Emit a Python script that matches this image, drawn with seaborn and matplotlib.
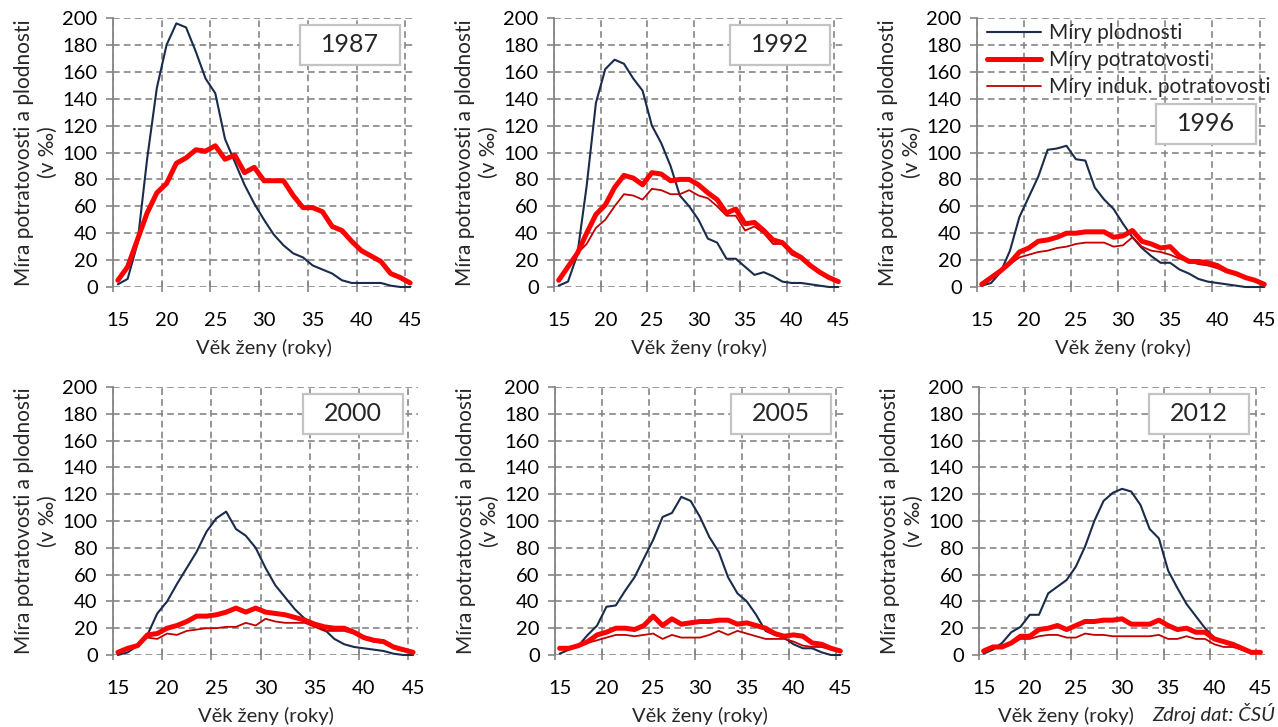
import matplotlib
matplotlib.use("Agg")
import matplotlib.pyplot as plt
import seaborn as sns
from matplotlib.patches import Rectangle
from matplotlib.lines import Line2D

ages = list(range(15, 46))
years = ["1987", "1992", "1996", "2000", "2005", "2012"]

fert_1987 = [2, 6, 32, 95, 148, 180, 196, 193, 175, 155, 144, 110, 93, 76, 62, 50, 39, 31, 25, 22, 16, 13, 10, 5, 3, 3, 3, 3, 1, 0, 0]
abort_1987 = [5, 15, 35, 55, 70, 77, 92, 96, 102, 101, 105, 95, 98, 85, 89, 79, 79, 79, 68, 59, 59, 56, 45, 42, 34, 27, 23, 19, 10, 7, 3]
induced_1987 = None

fert_1992 = [1, 4, 24, 75, 137, 162, 169, 166, 155, 146, 120, 107, 90, 68, 60, 50, 36, 33, 21, 21, 15, 9, 11, 8, 4, 3, 3, 2, 1, 0, 0]
abort_1992 = [5, 15, 25, 40, 54, 61, 74, 83, 81, 76, 85, 84, 79, 80, 80, 76, 70, 65, 55, 58, 47, 48, 42, 35, 33, 26, 22, 16, 11, 7, 4]
induced_1992 = [5, 15, 25, 32, 44, 50, 60, 69, 68, 65, 73, 72, 69, 69, 72, 68, 66, 60, 53, 53, 42, 45, 40, 32, 32, 24, 21, 15, 11, 7, 4]

fert_1996 = [1, 3, 11, 27, 52, 67, 82, 102, 103, 105, 95, 94, 74, 65, 58, 47, 37, 29, 23, 18, 18, 13, 10, 6, 4, 3, 2, 1, 0, 0, 0]
abort_1996 = [2, 7, 12, 18, 26, 29, 34, 35, 37, 40, 40, 41, 41, 41, 37, 38, 42, 34, 32, 29, 30, 23, 19, 19, 18, 16, 12, 10, 7, 5, 2]
induced_1996 = [2, 7, 12, 17, 22, 24, 26, 27, 29, 30, 32, 33, 33, 33, 30, 31, 37, 30, 27, 26, 24, 21, 19, 17, 16, 14, 11, 9, 7, 5, 2]

fert_2000 = [0, 2, 7, 15, 31, 40, 53, 65, 77, 92, 102, 107, 94, 89, 80, 65, 52, 43, 34, 27, 22, 19, 12, 8, 6, 5, 4, 3, 1, 0, 0]
abort_2000 = [2, 5, 7, 15, 16, 20, 22, 25, 29, 29, 30, 32, 35, 32, 35, 32, 31, 30, 28, 26, 23, 21, 20, 20, 17, 13, 11, 10, 6, 4, 2]
induced_2000 = [2, 5, 7, 13, 12, 16, 15, 18, 19, 20, 20, 21, 21, 24, 22, 27, 25, 24, 24, 24, 21, 18, 18, 18, 16, 12, 10, 9, 5, 3, 2]

fert_2005 = [1, 4, 7, 15, 22, 36, 37, 48, 58, 72, 86, 103, 106, 118, 115, 103, 88, 77, 58, 46, 40, 30, 18, 15, 13, 8, 5, 5, 2, 0, 0]
abort_2005 = [5, 5, 7, 10, 15, 17, 20, 20, 19, 22, 29, 22, 27, 23, 24, 25, 25, 26, 26, 23, 24, 22, 20, 16, 14, 15, 14, 9, 8, 5, 3]
induced_2005 = [5, 5, 7, 9, 11, 13, 15, 15, 14, 15, 16, 12, 15, 13, 13, 13, 15, 18, 15, 18, 16, 14, 12, 12, 12, 10, 7, 6, 6, 4, 3]

fert_2012 = [1, 4, 9, 17, 21, 30, 30, 46, 51, 56, 66, 81, 100, 115, 121, 124, 122, 112, 94, 87, 63, 50, 38, 29, 20, 13, 10, 7, 4, 2, 2]
abort_2012 = [3, 6, 6, 9, 14, 14, 19, 20, 22, 19, 22, 25, 25, 26, 26, 27, 23, 23, 23, 26, 22, 19, 20, 17, 17, 12, 10, 8, 5, 2, 2]
induced_2012 = [2, 5, 6, 8, 12, 12, 14, 15, 15, 13, 13, 16, 15, 15, 14, 14, 14, 14, 14, 15, 12, 12, 14, 12, 12, 8, 6, 6, 4, 2, 2]

series = {
    "1987": (fert_1987, abort_1987, induced_1987),
    "1992": (fert_1992, abort_1992, induced_1992),
    "1996": (fert_1996, abort_1996, induced_1996),
    "2000": (fert_2000, abort_2000, induced_2000),
    "2005": (fert_2005, abort_2005, induced_2005),
    "2012": (fert_2012, abort_2012, induced_2012),
}

legend_labels = ["Míry plodnosti", "Míry potratovosti", "Míry induk. potratovosti"]
ylabel_text = "Míra potratovosti a plodnosti\n(v ‰)"
xlabel_text = "Věk ženy (roky)"
source_text = "Zdroj dat: ČSÚ"

sns.set_theme(style="white")
plt.rcParams['font.family'] = ['Lato', 'DejaVu Sans']

W, H = 1278, 727
fig = plt.figure(figsize=(W / 100, H / 100), dpi=100)

# pixel boxes: left, right, top, bottom
layout = {
    "1987": (113, 415, 18, 287),
    "1992": (554, 843, 18, 287),
    "1996": (977, 1269, 18, 287),
    "2000": (113, 418, 387, 655),
    "2005": (555, 845, 387, 655),
    "2012": (979, 1265, 387, 655),
}
# year box centres (axes fraction)
yearbox = {
    "1987": (0.785, 0.90),
    "1992": (0.782, 0.90),
    "1996": (0.784, 0.606),
    "2000": (0.787, 0.90),
    "2005": (0.78, 0.90),
    "2012": (0.77, 0.90),
}
# x-label horizontal centre (pixels) where it is not centred on the axes
xlabel_x = {"2012": 1066}

BLUE = "#1a2b4c"
RED = "#ff0000"
DRED = "#c00000"
GRID = "#858585"

for yr in years:
    l, r, t, b = layout[yr]
    ax = fig.add_axes([l / W, 1 - b / H, (r - l) / W, (b - t) / H])
    fert, abort, induced = series[yr]
    sns.lineplot(x=ages, y=fert, ax=ax, color=BLUE, linewidth=1.5, zorder=3, clip_on=False)
    if induced is not None:
        sns.lineplot(x=ages, y=induced, ax=ax, color=DRED, linewidth=1.3, zorder=3.5, clip_on=False)
    sns.lineplot(x=ages, y=abort, ax=ax, color=RED, linewidth=3.6, zorder=4, clip_on=False)

    ax.set_xlim(14.5, 45.5)
    ax.set_ylim(0, 200)
    ax.set_yticks(range(0, 201, 20))
    ax.set_xticks([14.5, 19.5, 24.5, 29.5, 34.5, 39.5, 44.5])
    ax.set_xticklabels([])
    ax.set_xticks(list(range(15, 46, 5)), minor=True)
    ax.set_xticklabels([str(v) for v in range(15, 46, 5)], minor=True)
    ax.tick_params(axis='x', which='major', direction='inout', length=7, width=1.2, color=GRID, bottom=True)
    ax.tick_params(axis='x', which='minor', length=0, pad=18, labelsize=14.5, labelcolor='black', bottom=True)
    ax.tick_params(axis='y', which='major', direction='out', length=5, width=1.2, color=GRID, pad=6,
                   labelsize=14.5, labelcolor='black', left=True)
    ax.grid(True, which='major', linestyle=(0, (4, 2.5)), color=GRID, linewidth=1.2)
    for s in ["top", "right", "bottom"]:
        ax.spines[s].set_visible(False)
    ax.spines["left"].set_color(GRID)
    ax.spines["left"].set_linewidth(1.3)
    ax.set_facecolor("white")

    ax.set_ylabel(ylabel_text, fontsize=15, linespacing=1.25, labelpad=3)
    ax.set_xlabel(xlabel_text, fontsize=14.5, labelpad=7)
    if yr in xlabel_x:
        ax.xaxis.label.set_x((xlabel_x[yr] - l) / (r - l))

    cx, cy = yearbox[yr]
    bw = 100 / (r - l)
    bh = 40 / (b - t)
    ax.add_patch(Rectangle((cx - bw / 2, cy - bh / 2), bw, bh, transform=ax.transAxes,
                           facecolor="white", edgecolor="#c3c3c3", linewidth=1.6, zorder=6))
    ax.text(cx, cy, yr, transform=ax.transAxes, ha="center", va="center", fontsize=18, zorder=7)

    if yr == "1996":
        handles = [Line2D([], [], color=BLUE, lw=1.5),
                   Line2D([], [], color=RED, lw=3.6),
                   Line2D([], [], color=DRED, lw=1.3)]
        leg = ax.legend(handles, legend_labels, loc="upper left", bbox_to_anchor=(-0.015, 1.035),
                        frameon=False, fontsize=15, handlelength=2.6, handletextpad=0.35,
                        labelspacing=0.33, borderaxespad=0.3)
        leg.set_zorder(8)

fig.text(0.998, 0.004, source_text, ha="right", va="bottom", fontsize=14.5, style="italic")

fig.savefig("out.png", dpi=100, facecolor="white")
